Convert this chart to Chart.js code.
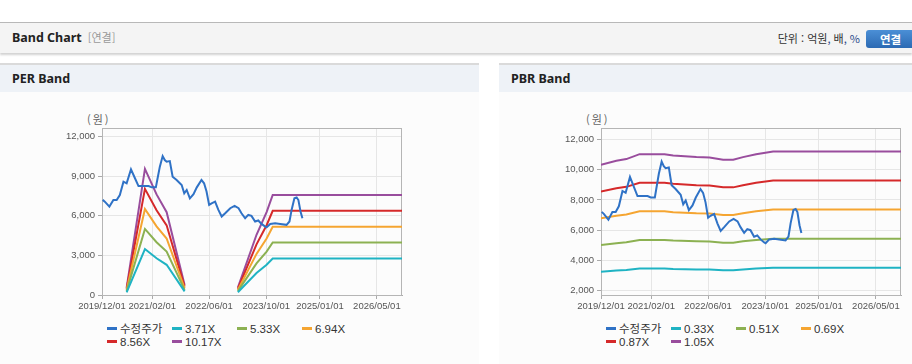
<!DOCTYPE html>
<html lang="ko">
<head>
<meta charset="utf-8">
<script src="https://cdn.jsdelivr.net/npm/chart.js@4.4.1/dist/chart.umd.min.js"></script>
<style>
  body { margin: 0; width: 912px; height: 364px; background: #fff; position: relative; overflow: hidden;
         font-family: "Noto Sans", "Noto Sans CJK KR", sans-serif; color: #222; }
  .topbar { position: absolute; left: 0; top: 22px; width: 912px; height: 30px; background: #f4f4f4;
            border-top: 1px solid #b8b8b8; box-shadow: 0 2px 2px rgba(0,0,0,0.18); }
  .topbar .title { position: absolute; left: 12px; top: 6px; font-size: 12.5px; font-weight: bold; line-height: 17px; }
  .topbar .sub { color: #999; font-weight: normal; margin-left: 6px; font-family: "Noto Sans CJK KR", sans-serif; font-size: 11px; }
  .topbar .unit { position: absolute; right: 52px; top: 7px; font-size: 11px; line-height: 16px;
                  font-family: "Noto Sans CJK KR", sans-serif; color: #333; }
  .topbar .unit b { color: #2a4a8a; font-weight: normal; }
  .topbar .btn { position: absolute; left: 866px; top: 7px; width: 52px; height: 18px; border-radius: 3px;
                 background: linear-gradient(#4b8fd6, #2c6ab3); color: #fff; font-weight: bold; font-size: 11.5px;
                 line-height: 18px; text-align: left; padding-left: 14px; box-sizing: border-box;
                 font-family: "Noto Sans CJK KR", sans-serif; }
  .panel { position: absolute; top: 63px; height: 299px; background: #fcfcfc; border-top: 2px solid #dadada;
           border-bottom: 1px solid #cfcfcf; }
  .panel .head { height: 27px; background: #eef2f7; font-weight: bold; font-size: 12.5px; line-height: 27px; padding-left: 12px; }
  .panel canvas { position: absolute; left: 0; top: 27px; }
  .unitlbl { position: absolute; top: 46px; font-size: 11px; color: #666; font-family: "Noto Sans CJK KR", sans-serif;
             letter-spacing: 2px; }
  .legend { position: absolute; top: 258px; width: 270px; font-size: 11.5px; color: #333; line-height: 13px;
            font-family: "Liberation Sans", "Noto Sans CJK KR", sans-serif; }
  .legend span.item { display: inline-block; width: 65px; white-space: nowrap; }
  .legend i { display: inline-block; width: 10px; height: 3px; margin-right: 3px; vertical-align: middle; position: relative; top: -1px; }
</style>
</head>
<body>
<div class="topbar">
  <div class="title">Band Chart<span class="sub">[연결]</span></div>
  <div class="unit">단위 : 억원<b>,</b> 배<b>,</b> <b>%</b></div>
  <div class="btn">연결</div>
</div>

<div class="panel" style="left:0; width:479px;">
  <div class="head">PER Band</div>
  <div class="unitlbl" style="left:87px;">(원)</div>
  <canvas id="perChart" width="479" height="230"></canvas>
  <div class="legend" id="perLegend" style="left:107px;"></div>
</div>

<div class="panel" style="left:499px; width:413px;">
  <div class="head">PBR Band</div>
  <div class="unitlbl" style="left:87px;">(원)</div>
  <canvas id="pbrChart" width="413" height="230"></canvas>
  <div class="legend" id="pbrLegend" style="left:107px;"></div>
</div>

<script>
// eje X: fechas de las etiquetas
const xTickDates = ['2019-12-01', '2021-02-01', '2022-06-01', '2023-10-01', '2025-01-01', '2026-05-01'];
const xTickLabels = ['2019/12/01', '2021/02/01', '2022/06/01', '2023/10/01', '2025/01/01', '2026/05/01'];
const xMin = '2019-12-01';
const xMax = '2026-12-01';

// 수정주가 (precio ajustado)
const priceDates = [
  '2019-12-07', '2019-12-25', '2020-02-02', '2020-03-07', '2020-04-04', '2020-05-01', '2020-06-01', '2020-06-28',
  '2020-08-04', '2020-09-07', '2020-10-07', '2020-11-19', '2021-01-01', '2021-01-28', '2021-03-04', '2021-03-16',
  '2021-04-07', '2021-05-01', '2021-05-19', '2021-06-04', '2021-07-01', '2021-07-25', '2021-08-28', '2021-10-10',
  '2021-11-01', '2021-11-22', '2021-12-19', '2022-01-19', '2022-02-16', '2022-03-28', '2022-04-19', '2022-05-10',
  '2022-06-01', '2022-06-22', '2022-07-22', '2022-08-19', '2022-09-16', '2022-10-16', '2022-11-28', '2023-01-04',
  '2023-02-07', '2023-03-04', '2023-04-04', '2023-05-01', '2023-05-28', '2023-06-28', '2023-07-25', '2023-08-22',
  '2023-09-22', '2023-10-04', '2023-11-04', '2023-12-16', '2024-01-28', '2024-03-22', '2024-04-16', '2024-05-04',
  '2024-05-28', '2024-06-16', '2024-07-01', '2024-07-19', '2024-08-04'
];
const priceValues = [
  7210, 7080, 6700, 7200, 7200, 7580, 8590, 8470,
  9520, 8850, 8260, 8260, 8260, 8160, 8160, 8720,
  9730, 10530, 10230, 10100, 10150, 8970, 8720, 8340,
  7710, 7960, 7330, 7640, 8160, 8720, 8470, 7840,
  6830, 6950, 7080, 6450, 5950, 6200, 6580, 6750,
  6580, 6200, 5820, 6070, 6000, 5570, 5650, 5390,
  5190, 5140, 5390, 5440, 5390, 5320, 5570, 6450,
  7330, 7400, 7200, 6330, 5820
];

// PER band
const perBandDates = ['2020-06-28', '2020-12-01', '2021-03-10', '2021-06-04', '2021-11-04', '2022-06-01',
                      '2023-02-01', '2023-07-10', '2023-10-04', '2023-11-25', '2026-12-01'];
const per371 = [204, 3487, 2783, 2289, 275, null, 204, 1666, 2293, 2768, 2768];
const per533 = [293, 5010, 3998, 3289, 394, null, 293, 2393, 3294, 3976, 3976];
const per694 = [382, 6524, 5205, 4282, 514, null, 382, 3116, 4289, 5177, 5177];
const per856 = [471, 8046, 6420, 5282, 633, null, 471, 3843, 5290, 6386, 6386];
const per1017 = [559, 9560, 7628, 6275, 753, null, 559, 4566, 6285, 7587, 7587];
const perYTicks = [0, 3000, 6000, 9000, 12000];

// PBR band
const pbrBandDates = ['2019-12-01', '2020-04-10', '2020-07-04', '2020-10-25', '2021-05-25', '2021-08-07', '2022-02-21',
                      '2022-06-13', '2022-10-07', '2023-01-01', '2023-03-25', '2023-07-15', '2023-12-07', '2026-12-01'];
const pbr033 = [3245, 3328, 3363, 3465, 3465, 3439, 3404, 3397, 3350, 3350, 3404, 3465, 3520, 3520];
const pbr051 = [5015, 5143, 5197, 5355, 5355, 5314, 5261, 5250, 5177, 5177, 5261, 5355, 5440, 5440];
const pbr069 = [6785, 6959, 7031, 7245, 7245, 7190, 7117, 7104, 7004, 7004, 7117, 7245, 7360, 7360];
const pbr087 = [8555, 8774, 8865, 9135, 9135, 9065, 8974, 8957, 8831, 8831, 8974, 9135, 9280, 9280];
const pbr105 = [10325, 10589, 10700, 11025, 11025, 10941, 10831, 10810, 10658, 10658, 10831, 11025, 11200, 11200];
const pbrYTicks = [2000, 4000, 6000, 8000, 10000, 12000];

const colores = ['#2f72c6', '#1fb3c3', '#8cb152', '#f5a531', '#d5292a', '#994d9d'];

function puntos(fechas, valores) {
    return fechas.map((f, i) => ({ x: Date.parse(f), y: valores[i] }));
}

function serie(label, fechas, valores, color) {
    return {
        label: label,
        data: puntos(fechas, valores),
        borderColor: color,
        backgroundColor: color,
        borderWidth: 2,
        pointRadius: 0,
        fill: false,
        tension: 0
    };
}

// marco gris alrededor del area del grafico
const marco = {
    id: 'marco',
    beforeDatasetsDraw(chart) {
        const a = chart.chartArea;
        const ctx = chart.ctx;
        ctx.save();
        ctx.strokeStyle = '#b5b5b5';
        ctx.lineWidth = 1;
        ctx.strokeRect(a.left + 0.5, a.top + 0.5, a.right - a.left - 1, a.bottom - a.top);
        ctx.restore();
    }
};

function crearGrafico(id, legendId, datasets, yMin, yMax, yTicks, padRight) {
    const chart = new Chart(document.getElementById(id), {
        type: 'line',
        data: { datasets: datasets },
        plugins: [marco],
        options: {
            responsive: false,
            animation: false,
            layout: { padding: { top: 36, right: padRight, left: 0, bottom: 0 } },
            plugins: { legend: { display: false }, tooltip: { enabled: false } },
            scales: {
                x: {
                    type: 'linear',
                    min: Date.parse(xMin),
                    max: Date.parse(xMax),
                    afterBuildTicks: s => { s.ticks = xTickDates.map(d => ({ value: Date.parse(d) })); },
                    afterFit: s => { s.height = 27; },
                    grid: { color: '#e6e6e6', tickColor: '#aaa', tickLength: 4 },
                    border: { color: '#aaa' },
                    ticks: {
                        autoSkip: false, maxRotation: 0, padding: 2, color: '#555',
                        font: { family: 'Liberation Sans', size: 9.5 },
                        callback: (v, i) => xTickLabels[i]
                    }
                },
                y: {
                    min: yMin,
                    max: yMax,
                    afterBuildTicks: s => { s.ticks = yTicks.map(v => ({ value: v })); },
                    afterFit: s => { s.width = 102; },
                    grid: { color: '#e6e6e6', tickColor: '#aaa', tickLength: 4 },
                    border: { color: '#aaa' },
                    ticks: {
                        padding: 3, color: '#555',
                        font: { family: 'Liberation Sans', size: 9.5 },
                        callback: v => v.toLocaleString('en-US')
                    }
                }
            }
        }
    });

    // leyenda en html, a partir de los datasets
    const cont = document.getElementById(legendId);
    chart.data.datasets.forEach(ds => {
        const item = document.createElement('span');
        item.className = 'item';
        item.innerHTML = '<i style="background:' + ds.borderColor + '"></i>' + ds.label;
        cont.appendChild(item);
    });
    return chart;
}

crearGrafico('perChart', 'perLegend', [
    serie('수정주가', priceDates, priceValues, colores[0]),
    serie('3.71X', perBandDates, per371, colores[1]),
    serie('5.33X', perBandDates, per533, colores[2]),
    serie('6.94X', perBandDates, per694, colores[3]),
    serie('8.56X', perBandDates, per856, colores[4]),
    serie('10.17X', perBandDates, per1017, colores[5])
], 0, 12660, perYTicks, 77);

crearGrafico('pbrChart', 'pbrLegend', [
    serie('수정주가', priceDates, priceValues, colores[0]),
    serie('0.33X', pbrBandDates, pbr033, colores[1]),
    serie('0.51X', pbrBandDates, pbr051, colores[2]),
    serie('0.69X', pbrBandDates, pbr069, colores[3]),
    serie('0.87X', pbrBandDates, pbr087, colores[4]),
    serie('1.05X', pbrBandDates, pbr105, colores[5])
], 1715, 12755, pbrYTicks, 11);
</script>
</body>
</html>
